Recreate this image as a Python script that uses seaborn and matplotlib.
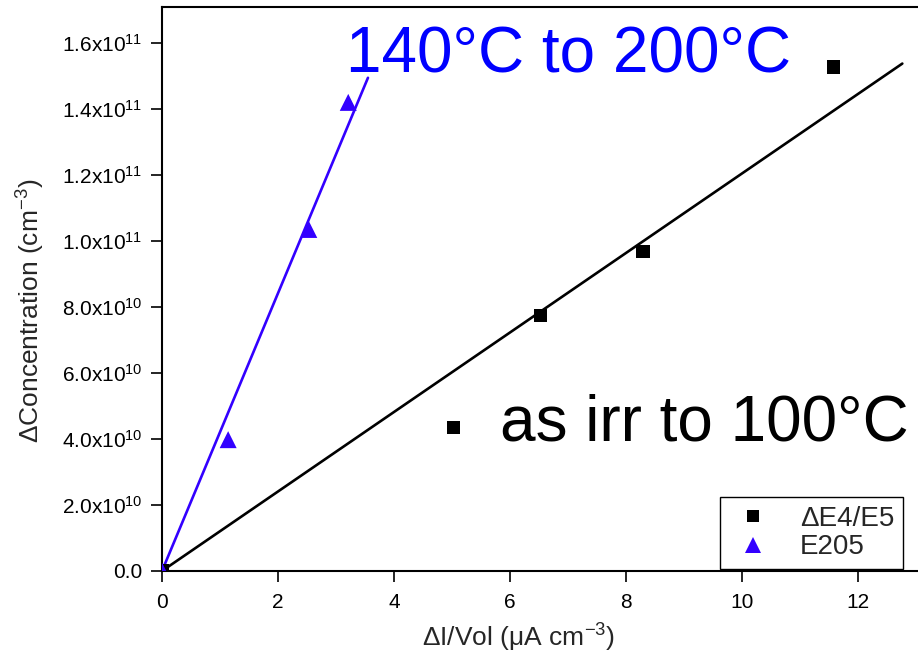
import numpy as np
import pandas as pd
import matplotlib
matplotlib.use("Agg")
import matplotlib.pyplot as plt
from matplotlib.ticker import FuncFormatter
import seaborn as sns

# ---- data ----
e4_x = [0.0, 5.02, 6.53, 8.29, 11.57]
e4_y = [0.0, 4.34e10, 7.74e10, 9.68e10, 1.527e11]
e205_x = [0.0, 1.14, 2.53, 3.21]
e205_y = [0.0, 3.98e10, 1.035e11, 1.42e11]
# linear fits through origin (slope, x-range)
e4_fit_x = [0.0, 12.76]
e4_slope = 1.205e10
e205_fit_x = [0.0, 3.55]
e205_slope = 4.21e10
series_names = ["\u0394E4/E5", "E205"]
x_ticks = [0, 2, 4, 6, 8, 10, 12]
y_ticks = [0, 2e10, 4e10, 6e10, 8e10, 1e11, 1.2e11, 1.4e11, 1.6e11]

sns.set_style("ticks")
plt.rcParams["font.family"] = ["Liberation Sans", "DejaVu Sans"]
plt.rcParams["mathtext.fontset"] = "custom"
plt.rcParams["mathtext.rm"] = "Liberation Sans"
plt.rcParams["mathtext.it"] = "Liberation Sans:italic"
plt.rcParams["mathtext.bf"] = "Liberation Sans:bold"

BLUE_MARK = "#3300ff"
fig = plt.figure(figsize=(9.18, 6.58), dpi=100)
ax = fig.add_axes([162 / 918, 1 - 571 / 658, 1 - 162 / 918, (571 - 7) / 658])

df_pts = pd.concat([
    pd.DataFrame({"x": e4_x, "y": e4_y, "s": series_names[0]}),
    pd.DataFrame({"x": e205_x, "y": e205_y, "s": series_names[1]}),
])
fx1 = np.array(e4_fit_x)
fx2 = np.array(e205_fit_x)
df_fit1 = pd.DataFrame({"x": fx1, "y": fx1 * e4_slope})
df_fit2 = pd.DataFrame({"x": fx2, "y": fx2 * e205_slope})

sns.lineplot(data=df_fit1, x="x", y="y", color="black", lw=1.9, ax=ax, legend=False)
sns.lineplot(data=df_fit2, x="x", y="y", color=BLUE_MARK, lw=1.9, ax=ax, legend=False)

sns.scatterplot(data=df_pts, x="x", y="y", hue="s", style="s",
                palette={series_names[0]: "black", series_names[1]: BLUE_MARK},
                markers={series_names[0]: "s", series_names[1]: "^"},
                size="s", sizes={series_names[0]: 90, series_names[1]: 150},
                edgecolor="none", linewidth=0, ax=ax, zorder=5)

ax.set_xlim(0, 13.03)
ax.set_ylim(0, 1.709e11)
ax.set_xticks(x_ticks)
ax.set_yticks(y_ticks)


def yfmt(v, pos):
    if v == 0:
        return "0.0"
    e = int(np.floor(np.log10(abs(v)) + 1e-9))
    m = v / 10 ** e
    return "%.1fx10$^{%d}$" % (m, e)


ax.yaxis.set_major_formatter(FuncFormatter(yfmt))
ax.tick_params(axis="both", which="major", direction="out", length=8, width=1.2,
               labelsize=15, color="black", labelcolor="black")
ax.tick_params(axis="x", pad=8)
ax.tick_params(axis="y", pad=6)
for side in ["left", "bottom", "top"]:
    ax.spines[side].set_visible(True)
    ax.spines[side].set_linewidth(1.5)
    ax.spines[side].set_color("black")
ax.spines["right"].set_visible(False)

ax.set_xlabel("\u0394I/Vol (\u03bcA cm$^{-3}$)", fontsize=19)
ax.set_ylabel("\u0394Concentration (cm$^{-3}$)", fontsize=19)
ax.xaxis.set_label_coords((519 - 162) / 756, (570 - 621) / 563)
ax.yaxis.set_label_coords((47 - 162) / 756, (570 - 310) / 563)

ax.text(3.17, 1.512e11, "140\u00b0C to 200\u00b0C", color="#0000ff", fontsize=46,
        ha="left", va="baseline")
ax.text(5.83, 3.95e10, "as irr to 100\u00b0C", color="black", fontsize=46,
        ha="left", va="baseline")

h, l = ax.get_legend_handles_labels()
leg = ax.legend(h, l, loc="lower right", bbox_to_anchor=(0.98, 0.004),
                borderaxespad=0, fontsize=20, frameon=True, fancybox=False,
                framealpha=1, edgecolor="black", borderpad=0.3, handletextpad=0.8,
                labelspacing=0.1, handlelength=1.8, markerscale=0.95)
leg.get_frame().set_linewidth(1.0)

fig.savefig("out.png", dpi=100)
